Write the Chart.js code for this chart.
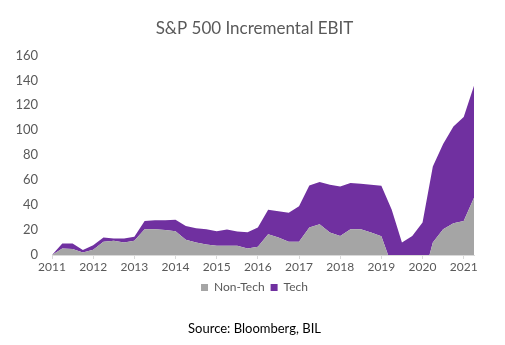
<!DOCTYPE html>
<html>
<head>
<meta charset="utf-8">
<script src="https://cdn.jsdelivr.net/npm/chart.js@4"></script>
<style>
  body { margin: 0; background: #fff; }
</style>
</head>
<body>
<canvas id="chart" width="505" height="345"></canvas>
<script>
// Trimestres de 2011 T1 à 2021 T2
const quarters = [
    '2011 Q1', '2011 Q2', '2011 Q3', '2011 Q4',
    '2012 Q1', '2012 Q2', '2012 Q3', '2012 Q4',
    '2013 Q1', '2013 Q2', '2013 Q3', '2013 Q4',
    '2014 Q1', '2014 Q2', '2014 Q3', '2014 Q4',
    '2015 Q1', '2015 Q2', '2015 Q3', '2015 Q4',
    '2016 Q1', '2016 Q2', '2016 Q3', '2016 Q4',
    '2017 Q1', '2017 Q2', '2017 Q3', '2017 Q4',
    '2018 Q1', '2018 Q2', '2018 Q3', '2018 Q4',
    '2019 Q1', '2019 Q2', '2019 Q3', '2019 Q4',
    '2020 Q1', '2020 Q2', '2020 Q3', '2020 Q4',
    '2021 Q1', '2021 Q2'
];

const nonTech = [
    0, 5.3, 4.8, 2.1, 4.2, 10.6, 11.4, 10, 11.4, 20.6,
    20.6, 20.1, 19, 12.2, 10, 8.5, 7.4, 7.4, 7.4, 5.3,
    6.6, 16.7, 14, 10.6, 10.6, 22, 24.6, 18, 15.3, 20.6,
    20.6, 18, 15, -8, -15, -18, -21, 10, 20.6, 25.4,
    27.2, 45.8
];

const tech = [
    0, 4.0, 4.5, 1.9, 3.7, 3.4, 1.8, 3.2, 3.2, 6.6,
    7.2, 7.7, 9.3, 11.1, 11.4, 12.1, 11.6, 13.0, 11.4, 13.0,
    15.4, 19.5, 21.0, 23.3, 28.4, 33.8, 33.9, 38.3, 39.7, 37.1,
    36.5, 38.3, 40.6, 44.5, 25, 33.3, 47, 60.9, 68.3, 77.6,
    83.4, 89.9
];

const yTicks = [0, 20, 40, 60, 80, 100, 120, 140, 160];

const textGrey = '#595959';
const fontName = 'Lato';

new Chart(document.getElementById('chart'), {
    type: 'line',
    data: {
        labels: quarters,
        datasets: [{
            label: 'Non-Tech',
            data: nonTech,
            backgroundColor: '#a5a5a5',
            borderWidth: 0,
            pointRadius: 0,
            fill: 'origin'
        }, {
            label: 'Tech',
            data: tech,
            backgroundColor: '#7030a0',
            borderWidth: 0,
            pointRadius: 0,
            fill: '-1'
        }]
    },
    options: {
        responsive: false,
        animation: false,
        layout: { padding: { left: 4, right: 0, top: 0, bottom: 0 } },
        scales: {
            x: {
                grid: {
                    drawOnChartArea: false,
                    tickLength: 4,
                    color: (c) => (c.index % 4 === 0 ? '#d9d9d9' : 'rgba(0,0,0,0)')
                },
                border: { color: '#d9d9d9' },
                ticks: {
                    autoSkip: false,
                    maxRotation: 0,
                    padding: 1,
                    color: textGrey,
                    font: { family: fontName, size: 12 },
                    callback: function (v, i) {
                        return i % 4 === 0 ? quarters[i].slice(0, 4) : '';
                    }
                }
            },
            y: {
                stacked: 'single',
                min: 0,
                max: 160,
                afterBuildTicks: (s) => { s.ticks = yTicks.map(v => ({ value: v })); },
                afterFit: (s) => { s.width = 48; },
                grid: { display: false, drawTicks: false },
                border: { display: false },
                ticks: {
                    padding: 14,
                    color: textGrey,
                    font: { family: fontName, size: 13 }
                }
            },
            // marge droite vide
            yRight: {
                position: 'right',
                afterFit: (s) => { s.width = 31; },
                grid: { display: false, drawTicks: false },
                border: { display: false },
                ticks: { display: false }
            }
        },
        plugins: {
            title: {
                display: true,
                text: 'S&P 500 Incremental EBIT',
                color: textGrey,
                font: { family: fontName, size: 17, weight: 'normal' },
                padding: { top: 18, bottom: 17 }
            },
            legend: {
                position: 'bottom',
                labels: {
                    boxWidth: 7,
                    boxHeight: 7,
                    color: textGrey,
                    font: { family: fontName, size: 12 },
                    padding: 6
                }
            },
            subtitle: {
                display: true,
                position: 'bottom',
                text: 'Source: Bloomberg, BIL',
                color: '#000000',
                font: { family: fontName, size: 13 },
                padding: { top: 18, bottom: 8 }
            },
            tooltip: { enabled: false }
        }
    }
});
</script>
</body>
</html>
